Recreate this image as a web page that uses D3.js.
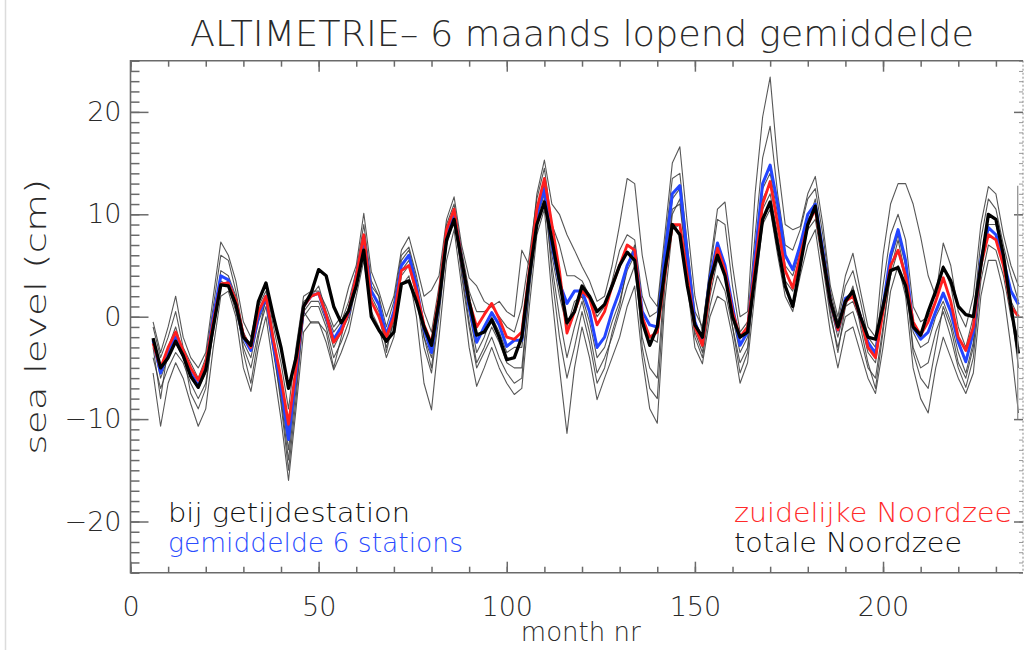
<!DOCTYPE html>
<html>
<head>
<meta charset="utf-8">
<script src="https://cdn.jsdelivr.net/npm/d3@7"></script>
<style>
  html, body { margin: 0; padding: 0; background: #fff; }
  svg { display: block; }
  text { font-family: "DejaVu Sans", "Liberation Sans", sans-serif; }
</style>
</head>
<body>
<svg id="chart" width="1026" height="650"></svg>
<script>
// ---------------- DATA ----------------
const title = "ALTIMETRIE\u2013 6 maands lopend gemiddelde";
const xLabel = "month nr";
const yLabel = "sea level (cm)";
const xTicks = [0, 50, 100, 150, 200];
const yTicks = [-20, -10, 0, 10, 20];
const legendLeft = ["bij getijdestation", "gemiddelde 6 stations"];
const legendRight = ["zuidelijke Noordzee", "totale Noordzee"];

// month numbers (every 2 months)
const months = [6,8,10,12,14,16,18,20,22,24,26,28,30,32,34,36,38,40,42,44,46,48,50,52,54,56,58,60,62,64,66,68,70,72,74,76,78,80,82,84,86,88,90,92,94,96,98,100,102,104,106,108,110,112,114,116,118,120,122,124,126,128,130,132,134,136,138,140,142,144,146,148,150,152,154,156,158,160,162,164,166,168,170,172,174,176,178,180,182,184,186,188,190,192,194,196,198,200,202,204,206,208,210,212,214,216,218,220,222,224,226,228,230,232,234,236];

// totale Noordzee (black, thick)
const totaleNoordzee = [-2.1,-5.0,-4.0,-2.4,-3.8,-5.8,-6.9,-5.2,-1.0,3.1,3.0,1.2,-2.0,-2.8,1.5,3.3,0.0,-3.0,-7.0,-4.0,1.0,2.3,4.6,4.0,1.0,-0.6,0.6,3.0,6.5,0.0,-1.3,-2.4,-1.5,3.2,3.5,1.5,-1.0,-2.8,1.5,7.5,9.5,5.5,1.5,-1.8,-1.5,-0.3,-2.0,-4.2,-4.0,-2.0,4.0,9.0,11.2,7.5,3.5,-0.6,0.5,3.0,2.0,0.5,1.2,3.0,5.0,6.3,5.5,-0.5,-2.8,-1.0,4.5,9.0,8.0,3.0,-0.8,-2.0,3.5,6.0,4.0,0.0,-2.0,-1.5,4.0,9.5,11.2,7.0,3.0,1.0,5.0,9.0,10.8,6.0,1.5,-1.0,1.5,2.5,0.0,-2.0,-2.2,1.0,4.5,4.8,3.0,-1.0,-1.8,0.5,2.5,4.8,3.5,1.0,0.2,0.0,5.0,10.0,9.5,6.0,1.0,-3.6];

// zuidelijke Noordzee (red)
const zuidelijkeNoordzee = [-2.6,-5.0,-3.0,-1.5,-3.3,-5.0,-6.2,-4.5,-0.5,3.2,3.3,1.6,-1.8,-3.0,0.5,2.0,-2.3,-6.0,-10.5,-5.0,1.0,2.0,2.3,0.2,-2.5,-1.5,0.5,4.0,8.0,1.5,0.0,-2.0,0.0,4.5,5.0,2.5,-0.8,-2.6,2.0,8.5,10.5,5.5,1.5,-1.0,0.2,1.3,-0.2,-2.0,-2.2,-1.5,4.5,10.5,13.5,9.0,4.5,-1.6,0.5,2.5,1.8,-0.8,0.5,3.0,5.0,7.0,6.5,0.0,-2.0,-1.5,4.0,9.0,9.0,4.0,-1.0,-2.8,3.0,6.7,4.5,0.5,-2.0,-1.0,5.0,11.0,13.2,9.0,4.5,2.8,6.0,9.0,10.5,6.0,1.5,-1.3,1.5,2.0,0.0,-3.0,-4.0,0.5,5.0,6.5,4.0,-0.5,-1.8,-0.5,1.5,3.8,1.5,-2.0,-3.3,-1.0,5.0,8.0,7.5,5.0,1.0,0.0];

// gemiddelde 6 stations (blue)
const gemiddelde6 = [-2.3,-5.5,-3.5,-2.0,-3.8,-5.5,-6.7,-5.0,0.0,4.0,3.6,1.3,-2.0,-3.3,0.0,2.0,-2.8,-6.8,-12.0,-5.5,1.0,2.0,2.3,0.0,-2.2,-1.0,0.3,4.0,7.7,2.5,1.2,-1.8,0.5,5.0,6.0,3.0,-1.2,-3.5,1.5,8.0,10.3,5.5,1.0,-2.5,-1.0,0.4,-0.8,-2.9,-2.3,-2.3,4.0,10.0,12.5,7.0,3.3,1.3,2.5,2.5,0.5,-3.0,-2.0,0.5,2.5,5.0,6.5,0.5,-0.8,-1.0,6.0,12.0,12.8,6.0,-0.5,-2.5,3.8,7.2,5.0,1.0,-2.8,-1.5,6.0,13.0,14.8,11.0,6.0,4.6,7.0,10.0,11.0,6.5,1.5,-1.3,1.8,2.2,0.0,-2.5,-3.6,1.0,6.0,8.5,5.5,-1.0,-2.2,-1.5,0.5,2.3,0.5,-2.5,-4.4,-1.5,5.5,8.7,8.0,5.5,2.5,1.2];

// bij getijdestation (6 thin lines)
const station1 = [-0.5,-3.5,-1.0,2.0,-2.0,-4.0,-5.0,-3.5,2.0,7.3,6.0,3.5,-0.5,-2.0,1.5,3.0,-1.0,-4.5,-9.0,-3.0,2.0,2.5,2.5,1.0,-1.0,0.0,2.9,5.0,10.1,4.4,2.5,0.0,2.0,6.5,7.8,5.0,2.0,2.6,4.0,9.5,11.7,7.0,3.8,3.0,1.5,1.0,1.5,0.5,0.0,6.5,5.0,12.0,15.3,11.0,10.0,8.0,6.5,4.9,3.5,1.5,2.0,5.0,9.0,13.5,13.0,6.0,2.0,1.0,8.0,15.0,16.6,9.0,2.0,-1.5,5.0,10.5,11.2,5.0,0.0,0.5,12.0,19.5,23.4,15.0,9.0,8.5,8.8,12.0,13.7,9.0,3.0,0.0,4.0,6.2,2.5,-1.0,-2.0,6.0,11.0,13.0,13.0,11.0,7.8,4.0,2.0,7.2,5.0,0.5,-1.0,2.0,9.0,12.7,12.0,8.0,5.0,3.0];
const station2 = [-1.0,-4.0,-2.0,0.5,-3.0,-4.5,-6.0,-4.0,1.0,6.0,5.5,2.5,-1.5,-3.0,1.0,2.5,-2.0,-6.0,-11.0,-4.5,1.5,2.0,3.0,0.5,-1.5,-0.5,1.5,4.5,9.0,3.5,2.0,-1.0,1.5,6.0,6.8,4.0,0.5,-1.5,3.0,9.0,11.0,6.5,2.5,0.5,0.5,1.0,0.0,-1.0,-1.5,1.0,6.0,11.5,14.5,9.0,7.0,4.0,4.0,3.5,2.0,0.0,1.0,3.5,6.5,8.0,7.5,2.0,0.0,0.5,7.0,13.5,14.0,7.0,0.5,-1.0,4.5,9.5,9.0,3.0,-1.5,-0.5,8.0,15.5,18.6,12.0,7.0,6.5,8.5,11.5,12.5,8.0,2.5,-0.5,3.0,4.5,1.5,-2.0,-3.0,3.0,8.0,10.0,7.5,1.0,-0.5,0.0,1.5,5.0,3.0,-1.0,-3.0,0.0,7.5,11.5,10.5,7.0,4.0,1.5];
const station3 = [-2.5,-6.0,-4.0,-2.5,-4.0,-6.0,-7.0,-5.5,-0.5,3.5,3.0,0.5,-2.5,-4.0,-0.5,1.5,-3.0,-7.5,-13.0,-6.0,0.5,1.5,1.5,-0.5,-3.0,-1.5,0.0,3.5,7.5,2.0,0.5,-2.5,0.0,4.5,5.5,2.5,-2.0,-4.0,1.0,7.5,10.0,5.0,0.5,-3.5,-2.0,0.0,-1.5,-3.5,-3.0,-3.0,3.5,9.5,12.0,6.0,2.0,-1.0,1.5,2.0,-0.5,-4.0,-3.0,-0.5,1.5,4.5,6.0,-0.5,-2.0,-2.5,5.0,11.5,12.5,5.5,-1.0,-3.0,3.0,6.5,4.0,0.0,-3.5,-2.0,5.5,12.5,14.0,10.0,5.0,4.0,6.5,9.5,10.5,6.0,1.0,-2.0,1.0,1.5,-0.5,-3.5,-4.5,0.5,5.5,8.0,5.0,-1.5,-3.0,-2.5,0.0,1.5,-0.5,-3.5,-5.5,-2.5,5.0,8.0,7.5,5.0,1.5,0.0];
const station4 = [-4.0,-7.0,-5.0,-3.5,-4.5,-6.5,-8.0,-6.5,-1.5,3.0,3.5,1.0,-3.0,-5.0,-1.5,1.0,-3.5,-8.0,-14.0,-7.0,0.0,1.0,1.0,-1.0,-4.0,-2.5,-0.5,3.0,6.5,1.5,0.0,-3.0,-0.5,4.0,5.0,2.0,-3.0,-5.5,0.0,7.0,9.5,4.5,-0.5,-4.5,-3.0,-1.0,-2.5,-4.5,-5.0,-5.0,2.5,9.0,11.5,5.0,0.0,-4.0,-1.0,1.5,-1.5,-5.5,-4.0,-2.0,0.5,3.0,5.0,-2.0,-5.0,-6.0,4.0,10.5,11.0,4.5,-2.0,-4.0,1.0,4.0,2.5,-1.0,-4.5,-3.0,4.0,10.5,12.0,8.0,3.5,2.5,5.5,8.5,9.5,5.0,0.0,-3.0,0.0,0.5,-2.0,-5.0,-6.0,-1.0,4.0,6.5,3.5,-3.0,-5.0,-4.5,-1.5,0.5,-2.0,-5.0,-6.9,-4.0,3.5,7.0,6.5,4.0,0.0,-2.0];
const station5 = [-5.5,-10.7,-6.5,-4.5,-6.0,-8.5,-10.7,-9.0,-3.0,2.0,2.5,0.0,-5.0,-7.3,-3.0,0.0,-5.0,-10.0,-16.0,-9.0,-1.5,-0.5,-0.5,-2.5,-5.2,-3.5,-1.5,2.0,5.5,0.5,-1.0,-4.0,-2.0,3.0,4.0,0.0,-6.5,-9.1,-2.0,5.5,8.5,3.0,-3.0,-6.8,-5.0,-3.0,-5.0,-6.5,-7.6,-7.0,1.0,8.0,10.5,2.0,-5.0,-11.4,-5.0,-1.0,-4.0,-8.1,-6.0,-4.0,-2.0,1.0,3.0,-4.0,-9.0,-10.4,1.5,8.5,9.0,3.0,-3.0,-4.6,0.0,2.0,1.5,-2.0,-6.5,-4.5,2.5,9.0,10.5,6.0,2.0,0.5,4.0,7.0,8.5,3.5,-1.5,-5.0,-1.5,-1.0,-3.5,-6.0,-7.5,-3.0,2.5,5.0,2.0,-5.0,-8.0,-9.4,-5.0,-2.0,-4.0,-6.0,-7.5,-5.5,2.0,5.5,5.5,2.5,-3.0,-9.4];
const station6 = [-3.0,-8.0,-3.0,-1.0,-3.5,-7.5,-9.0,-7.0,-1.0,4.5,4.0,2.0,-3.5,-6.5,-2.0,2.0,-3.0,-8.5,-15.0,-8.0,0.5,-0.6,-0.6,-1.5,-5.0,-2.0,1.0,3.5,7.0,3.0,2.0,-3.5,0.0,5.5,6.5,3.5,-2.0,-5.0,1.0,8.0,10.5,4.0,-1.0,-5.0,-3.5,-2.0,-4.0,-5.5,-6.5,-6.0,3.0,10.0,13.0,4.0,-2.0,-6.0,-3.0,0.5,-2.5,-6.5,-5.0,-1.5,1.0,5.0,7.0,-3.0,-7.0,-8.0,3.0,10.0,11.5,5.0,-1.5,-3.5,2.0,5.5,4.5,-1.0,-5.5,-3.5,4.5,11.5,13.0,9.0,4.5,3.0,6.0,9.0,11.5,6.0,0.5,-3.5,1.0,3.0,-1.0,-4.5,-7.0,-1.5,4.5,7.5,4.0,-3.5,-6.0,-7.0,-3.0,1.0,-1.0,-4.5,-6.0,-3.0,4.5,9.0,9.0,6.0,1.0,-5.0];

const stations = [station1, station2, station3, station4, station5, station6];

// ---------------- CHART ----------------
const svg = d3.select("#chart");
const W = 1026, H = 650;
const pLeft = 130.5, pRight = 1023, pTop = 60.7, pBottom = 572.7;

const x = d3.scaleLinear().domain([0, 237.2]).range([pLeft, pRight]);
const y = d3.scaleLinear().domain([-25, 25]).range([pBottom, pTop]);

const fontFam = '"DejaVu Sans", "Liberation Sans", sans-serif';
const axisCol = "#6a6a6a";
const textCol = "#2a2a2a";

// faint left image border
svg.append("line").attr("x1", 5.5).attr("x2", 5.5).attr("y1", 0).attr("y2", H)
  .attr("stroke", "#dcdcdc").attr("stroke-width", 1.5);

// Title
svg.append("text").attr("x", 190).attr("y", 46)
  .attr("textLength", 784).attr("lengthAdjust", "spacingAndGlyphs")
  .attr("font-size", 36).attr("fill", textCol).attr("font-weight", 200)
  .text(title);

// data clip
svg.append("defs").append("clipPath").attr("id", "clip")
  .append("rect").attr("x", pLeft).attr("y", pTop).attr("width", pRight - pLeft + 2).attr("height", pBottom - pTop);

const line = d3.line().x((d, i) => x(months[i])).y(d => y(d));

const g = svg.append("g").attr("clip-path", "url(#clip)");
stations.forEach(s => {
  g.append("path").datum(s).attr("d", line)
    .attr("fill", "none").attr("stroke", "#3a3a3a").attr("stroke-width", 1.1)
    .attr("stroke-opacity", 0.85).attr("stroke-linejoin", "round");
});
g.append("path").datum(gemiddelde6).attr("d", line)
  .attr("fill", "none").attr("stroke", "#2345ff").attr("stroke-width", 3).attr("stroke-linejoin", "round");
g.append("path").datum(zuidelijkeNoordzee).attr("d", line)
  .attr("fill", "none").attr("stroke", "#ff1f1f").attr("stroke-width", 2.8).attr("stroke-linejoin", "round");
g.append("path").datum(totaleNoordzee).attr("d", line)
  .attr("fill", "none").attr("stroke", "#000").attr("stroke-width", 3.3).attr("stroke-linejoin", "round");

// ---- axes ----
function styleAxis(sel) {
  sel.selectAll("path.domain").remove();
  sel.selectAll(".tick line").attr("stroke", axisCol).attr("stroke-width", 1.5);
  sel.selectAll(".tick text").attr("fill", textCol).attr("font-family", fontFam).attr("font-size", 27).attr("font-weight", 200);
}
const yMinorVals = d3.range(-25, 25.5, 1);
const xMinorVals = d3.range(0, 237, 10);

// left axis ticks (inward)
svg.append("g").attr("transform", `translate(${pLeft},0)`)
  .call(d3.axisRight(y).tickValues(yMinorVals).tickSize(9).tickFormat("")).call(styleAxis);
svg.append("g").attr("transform", `translate(${pLeft},0)`)
  .call(d3.axisRight(y).tickValues(yTicks).tickSize(18).tickFormat("")).call(styleAxis);
svg.append("g").attr("transform", `translate(${pLeft},0)`)
  .call(d3.axisLeft(y).tickValues(yTicks).tickSize(0).tickPadding(9)
    .tickFormat(d => d < 0 ? "\u2212" + Math.abs(d) : String(d)))
  .call(styleAxis);

// bottom axis
svg.append("g").attr("transform", `translate(0,${pBottom})`)
  .call(d3.axisTop(x).tickValues(xMinorVals).tickSize(6).tickFormat("")).call(styleAxis);
svg.append("g").attr("transform", `translate(0,${pBottom})`)
  .call(d3.axisTop(x).tickValues(xTicks).tickSize(11).tickFormat("")).call(styleAxis);
svg.append("g").attr("transform", `translate(0,${pBottom})`)
  .call(d3.axisBottom(x).tickValues(xTicks).tickSize(0).tickPadding(24)).call(styleAxis);

// top axis
svg.append("g").attr("transform", `translate(0,${pTop})`)
  .call(d3.axisBottom(x).tickValues(xMinorVals).tickSize(6).tickFormat("")).call(styleAxis);
svg.append("g").attr("transform", `translate(0,${pTop})`)
  .call(d3.axisBottom(x).tickValues(xTicks).tickSize(11).tickFormat("")).call(styleAxis);

// right axis (partially visible)
svg.append("g").attr("transform", `translate(${pRight},0)`)
  .call(d3.axisLeft(y).tickValues(yMinorVals).tickSize(4).tickFormat("")).call(styleAxis)
  .selectAll(".tick line").attr("stroke", "#999").attr("stroke-width", 1);
svg.append("g").attr("transform", `translate(${pRight},0)`)
  .call(d3.axisLeft(y).tickValues(yTicks).tickSize(9).tickFormat("")).call(styleAxis);
svg.append("line").attr("x1", pRight).attr("x2", pRight).attr("y1", pTop).attr("y2", pBottom)
  .attr("stroke", "#888").attr("stroke-width", 1).attr("stroke-dasharray", "2,2");
svg.append("line").attr("x1", x(235.8)).attr("x2", x(235.8)).attr("y1", y(12.8)).attr("y2", y(-10))
  .attr("stroke", "#8a8a8a").attr("stroke-width", 1.2);

// frame lines (left, top, bottom)
svg.append("path")
  .attr("d", `M${pRight},${pTop}H${pLeft}V${pBottom}H${pRight}`)
  .attr("fill", "none").attr("stroke", axisCol).attr("stroke-width", 1.6);

// axis titles
svg.append("text").attr("x", (pLeft + pRight) / 2 + 4).attr("y", 641)
  .attr("text-anchor", "middle").attr("font-size", 26).attr("fill", textCol).attr("font-weight", 200)
  .text(xLabel);
svg.append("text").attr("transform", `translate(46,${y(0)}) rotate(-90)`)
  .attr("text-anchor", "middle").attr("font-size", 28).attr("fill", textCol).attr("font-weight", 200)
  .attr("textLength", 276).attr("lengthAdjust", "spacingAndGlyphs")
  .text(yLabel);

// legend
const legL = [{t: legendLeft[0], c: "#111", y: 522, w: 242}, {t: legendLeft[1], c: "#2a4cff", y: 552, w: 295}];
const legR = [{t: legendRight[0], c: "#ff2a2a", y: 522, w: 278}, {t: legendRight[1], c: "#111", y: 552, w: 228}];
legL.forEach(d => svg.append("text").attr("x", 168).attr("y", d.y)
  .attr("font-size", 27).attr("fill", d.c).attr("font-weight", 200)
  .attr("textLength", d.w).attr("lengthAdjust", "spacingAndGlyphs").text(d.t));
legR.forEach(d => svg.append("text").attr("x", 734).attr("y", d.y)
  .attr("font-size", 27).attr("fill", d.c).attr("font-weight", 200)
  .attr("textLength", d.w).attr("lengthAdjust", "spacingAndGlyphs").text(d.t));
</script>
</body>
</html>
